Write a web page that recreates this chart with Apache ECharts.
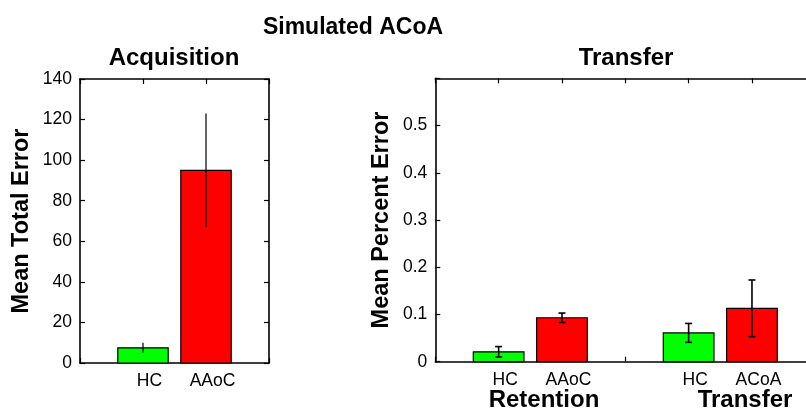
<!DOCTYPE html>
<html>
<head>
<meta charset="utf-8">
<script src="https://cdn.jsdelivr.net/npm/echarts@6/dist/echarts.min.js"></script>
<style>html,body{margin:0;padding:0;background:#fff}#c{width:806px;height:412px}</style>
</head>
<body>
<div id="c"></div>
<script>
// ---- data ----
var acqCats = ['HC', 'AAoC'];
var acqPos = [1, 2];
var acqMeans = [7.5, 95];
var acqErr = [2.5, 28];

var trCats = ['HC', 'AAoC', 'HC', 'ACoA'];
var trPos = [1, 2, 4, 5];
var trMeans = [0.021, 0.093, 0.061, 0.113];
var trErr = [0.011, 0.010, 0.020, 0.060];

var barColors = ['#00ff00', '#ff0000', '#00ff00', '#ff0000'];
var acqTicks = [0, 20, 40, 60, 80, 100, 120, 140];
var trTicks = [0, 0.1, 0.2, 0.3, 0.4, 0.5];

var FONT = '"Liberation Sans", Arial, sans-serif';

var chart = echarts.init(document.getElementById('c'), null, {renderer: 'canvas'});

function barSeries(gi, pos, means) {
  return {
    type: 'custom', xAxisIndex: gi * 2, yAxisIndex: gi * 2,
    data: pos.map(function (p, i) { return [p, means[i], i]; }),
    renderItem: function (params, api) {
      var x = api.value(0), v = api.value(1), idx = api.value(2);
      var p1 = api.coord([x - 0.4, v]);
      var p2 = api.coord([x + 0.4, 0]);
      return {
        type: 'rect',
        shape: {x: p1[0], y: p1[1], width: p2[0] - p1[0], height: p2[1] - p1[1]},
        style: {fill: barColors[idx], stroke: '#000', lineWidth: 1.2}
      };
    },
    z: 2
  };
}
function errSeries(gi, pos, means, errs, cap, lw) {
  return {
    type: 'custom', xAxisIndex: gi * 2, yAxisIndex: gi * 2,
    data: pos.map(function (p, i) { return [p, means[i], errs[i]]; }),
    renderItem: function (params, api) {
      var x = api.value(0), v = api.value(1), e = api.value(2);
      var a = api.coord([x, v + e]);
      var b = api.coord([x, v - e]);
      var st = {stroke: '#000', lineWidth: lw};
      var ch = [{type: 'line', shape: {x1: a[0], y1: a[1], x2: b[0], y2: b[1]}, style: st}];
      if (cap) {
        ch.push({type: 'line', shape: {x1: a[0] - cap, y1: a[1], x2: a[0] + cap, y2: a[1]}, style: st});
        ch.push({type: 'line', shape: {x1: b[0] - cap, y1: b[1], x2: b[0] + cap, y2: b[1]}, style: st});
      }
      return {type: 'group', children: ch};
    },
    z: 3
  };
}

var lineStyle = {color: '#000', width: 1.6};
var tickStyle = {show: true, inside: true, length: 5, lineStyle: {color: '#000', width: 1.2}};

function xAxes(gi, max, pos, cats) {
  return [{
    type: 'value', gridIndex: gi, min: 0, max: max, interval: 1, position: 'bottom',
    axisLine: {show: true, lineStyle: lineStyle},
    axisTick: tickStyle,
    splitLine: {show: false},
    axisLabel: {
      show: true, color: '#000', fontSize: 17.5, fontFamily: FONT, margin: 9,
      padding: [0, 0, 0, 13],
      formatter: function (v) { var i = pos.indexOf(v); return i >= 0 ? cats[i] : ''; }
    }
  }, {
    type: 'value', gridIndex: gi, min: 0, max: max, interval: 1, position: 'top',
    axisLine: {show: true, onZero: false, lineStyle: lineStyle},
    axisTick: tickStyle, splitLine: {show: false}, axisLabel: {show: false}
  }];
}
function yAxes(gi, max, interval, ticks, name, gap) {
  return [{
    type: 'value', gridIndex: gi, min: 0, max: max, interval: interval, position: 'left',
    name: name, nameLocation: 'middle', nameGap: gap,
    nameTextStyle: {color: '#000', fontSize: 23.5, fontWeight: 'bold', fontFamily: FONT},
    axisLine: {show: true, lineStyle: lineStyle},
    axisTick: tickStyle, splitLine: {show: false},
    axisLabel: {
      color: '#000', fontSize: 17.5, fontFamily: FONT, margin: 8,
      formatter: function (v) {
        for (var i = 0; i < ticks.length; i++) if (Math.abs(ticks[i] - v) < 1e-9) return String(ticks[i]);
        return '';
      }
    }
  }, {
    type: 'value', gridIndex: gi, min: 0, max: max, interval: interval, position: 'right',
    axisLine: {show: true, onZero: false, lineStyle: lineStyle},
    axisTick: tickStyle, splitLine: {show: false}, axisLabel: {show: false}
  }];
}

var xa = xAxes(0, 3, acqPos, acqCats).concat(xAxes(1, 6, trPos, trCats));
var ya = yAxes(0, 140, 20, acqTicks, 'Mean Total Error', 46).concat(yAxes(1, 0.6, 0.1, trTicks, 'Mean Percent Error', 42));

function txt(x, y, s, size) {
  return {type: 'text', x: x, y: y, style: {text: s, fill: '#000', font: 'bold ' + size + 'px ' + FONT, textAlign: 'center', textVerticalAlign: 'middle'}};
}

chart.setOption({
  animation: false,
  backgroundColor: '#fff',
  grid: [
    {left: 80, top: 79, width: 189, height: 284, containLabel: false, outerBoundsMode: 'none'},
    {left: 435.3, top: 78.3, width: 380, height: 283.4, containLabel: false, outerBoundsMode: 'none'}
  ],
  xAxis: xa,
  yAxis: ya,
  series: [
    barSeries(0, acqPos, acqMeans),
    errSeries(0, acqPos, acqMeans, acqErr, 0, 1.2),
    barSeries(1, trPos, trMeans),
    errSeries(1, trPos, trMeans, trErr, 3.5, 1.6)
  ],
  graphic: [
    txt(353, 28, 'Simulated ACoA', 23),
    txt(174, 58, 'Acquisition', 24),
    txt(626, 58, 'Transfer', 24),
    txt(544, 400, 'Retention', 24),
    txt(745, 400, 'Transfer', 24)
  ]
});
</script>
</body>
</html>
